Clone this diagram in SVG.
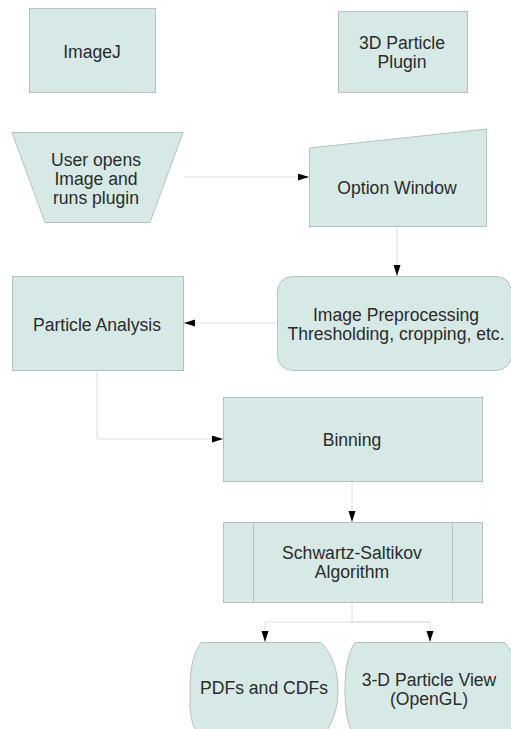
<svg xmlns="http://www.w3.org/2000/svg" width="511" height="729" viewBox="0 0 511 729">
<style>
.n{fill:#d6e9e6;stroke:#b7c2c0;stroke-width:1}
.t{font-family:"Liberation Sans",Arial,sans-serif;font-size:17.6px;fill:#2b2b2b;text-anchor:middle}
.c{fill:none;stroke:#dedede;stroke-width:1}
</style>
<defs>
<marker id="a" markerUnits="userSpaceOnUse" markerWidth="12" markerHeight="8" refX="11" refY="3.5" orient="auto">
<path d="M0,0 L11,3.5 L0,7 z" fill="#000"/>
</marker>
</defs>
<rect width="511" height="729" fill="#fff"/>
<g id="connectors">
<path class="c" d="M184,177 L309,177" marker-end="url(#a)"/>
<path class="c" d="M397,226 L397,276" marker-end="url(#a)"/>
<path class="c" d="M277,323 L184,323" marker-end="url(#a)"/>
<path class="c" d="M97,370 L97,439 L223,439" marker-end="url(#a)"/>
<path class="c" d="M352,481 L352,522" marker-end="url(#a)"/>
<path class="c" d="M352,602 L352,622"/>
<path class="c" d="M430,622 L265,622 L265,642" marker-end="url(#a)"/>
<path class="c" d="M352,622 L430,622 L430,642" marker-end="url(#a)"/>
</g>
<g id="imagej">
<rect class="n" x="29.5" y="8.5" width="126" height="84"/>
<text class="t" x="92" y="58">ImageJ</text>
</g>
<g id="plugin">
<rect class="n" x="338.5" y="11.5" width="129" height="81"/>
<text class="t" x="402" y="49">3D Particle</text>
<text class="t" x="402" y="68">Plugin</text>
</g>
<g id="user">
<path class="n" d="M12,132.5 L183,132.5 L150,222.5 L45,222.5 Z"/>
<text class="t" x="96" y="166">User opens</text>
<text class="t" x="96" y="185">Image and</text>
<text class="t" x="96" y="204">runs plugin</text>
</g>
<g id="option">
<path class="n" d="M309.5,148 L486.5,129 L486.5,226.5 L309.5,226.5 Z"/>
<text class="t" x="397" y="194">Option Window</text>
</g>
<g id="preprocess">
<rect class="n" x="277.5" y="276.5" width="234" height="94" rx="15" ry="15"/>
<text class="t" x="396" y="321">Image Preprocessing</text>
<text class="t" x="396" y="340">Thresholding, cropping, etc.</text>
</g>
<g id="analysis">
<rect class="n" x="12.5" y="276.5" width="171" height="94"/>
<text class="t" x="97" y="331">Particle Analysis</text>
</g>
<g id="binning">
<rect class="n" x="223.5" y="397.5" width="259" height="84"/>
<text class="t" x="352" y="446">Binning</text>
</g>
<g id="schwartz">
<rect class="n" x="223.5" y="522.5" width="259" height="80"/>
<line x1="253.5" y1="522.5" x2="253.5" y2="602.5" stroke="#b7c2c0"/>
<line x1="452.5" y1="522.5" x2="452.5" y2="602.5" stroke="#b7c2c0"/>
<text class="t" x="352" y="559">Schwartz-Saltikov</text>
<text class="t" x="352" y="578">Algorithm</text>
</g>
<g id="pdfs">
<path class="n" d="M201,642.5 L321,642.5 C333,655 338,672 338,690 C338,708 333,725 321,738 L201,738 C189,725 190,708 190,690 C190,672 192,655 201,642.5 Z"/>
<text class="t" x="264" y="694">PDFs and CDFs</text>
</g>
<g id="view">
<path class="n" d="M355,642.5 L505,642.5 C515,655 520,672 520,690 C520,708 515,725 505,738 L355,738 C347,725 345,708 345,690 C345,672 347,655 355,642.5 Z"/>
<text class="t" x="429" y="686">3-D Particle View</text>
<text class="t" x="429" y="705">(OpenGL)</text>
</g>
</svg>
